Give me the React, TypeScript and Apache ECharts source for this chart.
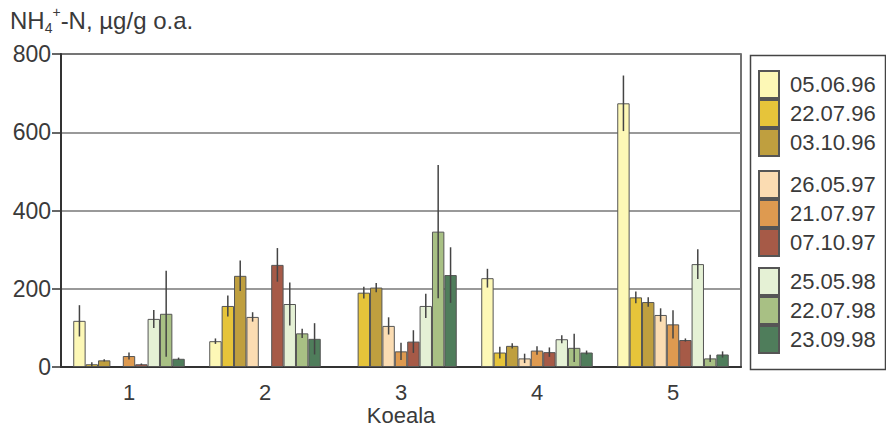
import React, { useEffect, useRef } from "react";
import * as echarts from "echarts";

const categories = ["1", "2", "3", "4", "5"];
const seriesNames = [
  "05.06.96", "22.07.96", "03.10.96",
  "26.05.97", "21.07.97", "07.10.97",
  "25.05.98", "22.07.98", "23.09.98",
];
const seriesColors = [
  "#fdf8b6", "#e6c43a", "#bf9f3f",
  "#fbdcb2", "#de9a50", "#a65a47",
  "#e5f1d5", "#a8c084", "#4f7d5b",
];
// mean values per date (null = not measured)
const v0505 = [118, 66, null, 227, 674];
const v2207_96 = [7, 156, 190, 37, 178];
const v0310 = [17, 233, 203, 54, 166];
const v2605 = [null, 128, 105, 22, 133];
const v2107 = [28, null, 40, 42, 109];
const v0710 = [7, 261, 65, 38, 69];
const v2505 = [123, 161, 156, 71, 263];
const v2207_98 = [136, 86, 346, 49, 22];
const v2309 = [21, 72, 235, 37, 32];
const seriesValues = [v0505, v2207_96, v0310, v2605, v2107, v0710, v2505, v2207_98, v2309];
// error bar half-widths
const e0505 = [40, 7, 0, 24, 71];
const e2207_96 = [5, 27, 15, 15, 15];
const e0310 = [3, 39, 12, 7, 12];
const e2605 = [0, 12, 22, 12, 17];
const e2107 = [9, 0, 22, 11, 36];
const e0710 = [2, 43, 29, 12, 4];
const e2505 = [23, 55, 31, 10, 38];
const e2207_98 = [110, 12, 170, 36, 9];
const e2309 = [3, 40, 71, 5, 8];
const seriesErrors = [e0505, e2207_96, e0310, e2605, e2107, e0710, e2505, e2207_98, e2309];
const yTicks = [0, 200, 400, 600, 800];

const FONT = "'Liberation Sans', Arial, Helvetica, sans-serif";
const TXT = "#3a3a3a";
const GAP = 0.18;

export default function App() {
  const ref = useRef<HTMLDivElement>(null);
  useEffect(() => {
    if (!ref.current) return;
    const chart = echarts.init(ref.current, undefined, { renderer: "svg" });
    const n = seriesNames.length;
    const errData: any[] = [];
    seriesValues.forEach((vals, si) => {
      vals.forEach((v, ci) => {
        const e = seriesErrors[si][ci];
        if (v != null && e > 0) errData.push([si, ci, v, e]);
      });
    });
    const barSeries = seriesNames.map((name, i) => ({
      name,
      type: "bar",
      data: seriesValues[i],
      barGap: "0%",
      barCategoryGap: GAP * 100 + "%",
      itemStyle: { color: seriesColors[i], borderColor: "#555", borderWidth: 1 },
      emphasis: { disabled: true },
    }));
    const errSeries = {
      type: "custom",
      name: "err",
      data: errData,
      encode: { x: 1, y: 2 },
      z: 5,
      renderItem: (params: any, api: any) => {
        const si = api.value(0);
        const ci = api.value(1);
        const v = api.value(2);
        const e = api.value(3);
        const band = api.size([1, 0])[0];
        const bw = (band * (1 - GAP)) / n;
        const top = api.coord([ci, v + e]);
        const bot = api.coord([ci, Math.max(0, v - e)]);
        const x = top[0] + (si - (n - 1) / 2) * bw;
        return {
          type: "line",
          shape: { x1: x, y1: top[1], x2: x, y2: bot[1] },
          style: { stroke: "#444", lineWidth: 1.5 },
        };
      },
    };
    const legendTops = [70, 170, 267];
    chart.setOption({
      animation: false,
      title: {
        text: "NH{sub|4}{sup|+}-N, µg/g o.a.",
        left: 10,
        top: 5,
        padding: 0,
        textStyle: {
          fontFamily: FONT,
          fontSize: 24,
          fontWeight: "normal",
          color: TXT,
          lineHeight: 30,
          rich: {
            sub: { fontFamily: FONT, fontSize: 14, color: TXT, verticalAlign: "bottom", lineHeight: 18 },
            sup: { fontFamily: FONT, fontSize: 14, color: TXT, verticalAlign: "top", lineHeight: 24 },
          },
        },
      },
      grid: {
        left: 61,
        right: 145,
        top: 54,
        bottom: 60,
        show: true,
        borderColor: "#444",
        borderWidth: 1.5,
        containLabel: false,
        outerBoundsMode: "none",
      },
      legend: legendTops.map((t, g) => ({
        data: seriesNames.slice(g * 3, g * 3 + 3),
        orient: "vertical",
        left: 758,
        top: t,
        itemWidth: 20,
        itemHeight: 27,
        itemGap: 0,
        icon: "rect",
        selectedMode: false,
        padding: 0,
        textStyle: { fontFamily: FONT, fontSize: 22, color: TXT, padding: [0, 0, 0, 6] },
      })),
      xAxis: {
        type: "category",
        data: categories,
        name: "Koeala",
        nameLocation: "middle",
        nameGap: 38,
        nameMoveOverlap: false,
        nameTextStyle: { fontFamily: FONT, fontSize: 22, color: TXT, lineHeight: 20 },
        axisLine: { lineStyle: { color: "#333", width: 2 } },
        axisTick: { show: false },
        axisLabel: { fontFamily: FONT, fontSize: 22, color: TXT, margin: 15, lineHeight: 20 },
      },
      yAxis: {
        type: "value",
        min: yTicks[0],
        max: yTicks[yTicks.length - 1],
        interval: 200,
        axisLine: { show: true, lineStyle: { color: "#333", width: 2 } },
        axisTick: { show: true, length: 9, lineStyle: { color: "#333", width: 1.5 } },
        axisLabel: { fontFamily: FONT, fontSize: 23, color: TXT, margin: 10 },
        splitLine: { lineStyle: { color: "#777", width: 1.5 } },
      },
      graphic: [
        {
          type: "rect",
          left: 748,
          top: 53,
          shape: { width: 135, height: 314 },
          style: { fill: "none", stroke: "#444", lineWidth: 1.5 },
        },
      ],
      series: [...barSeries, errSeries],
    });
    return () => chart.dispose();
  }, []);
  return <div ref={ref} style={{ width: 886, height: 427, position: "absolute", left: 0, top: 0 }} />;
}
